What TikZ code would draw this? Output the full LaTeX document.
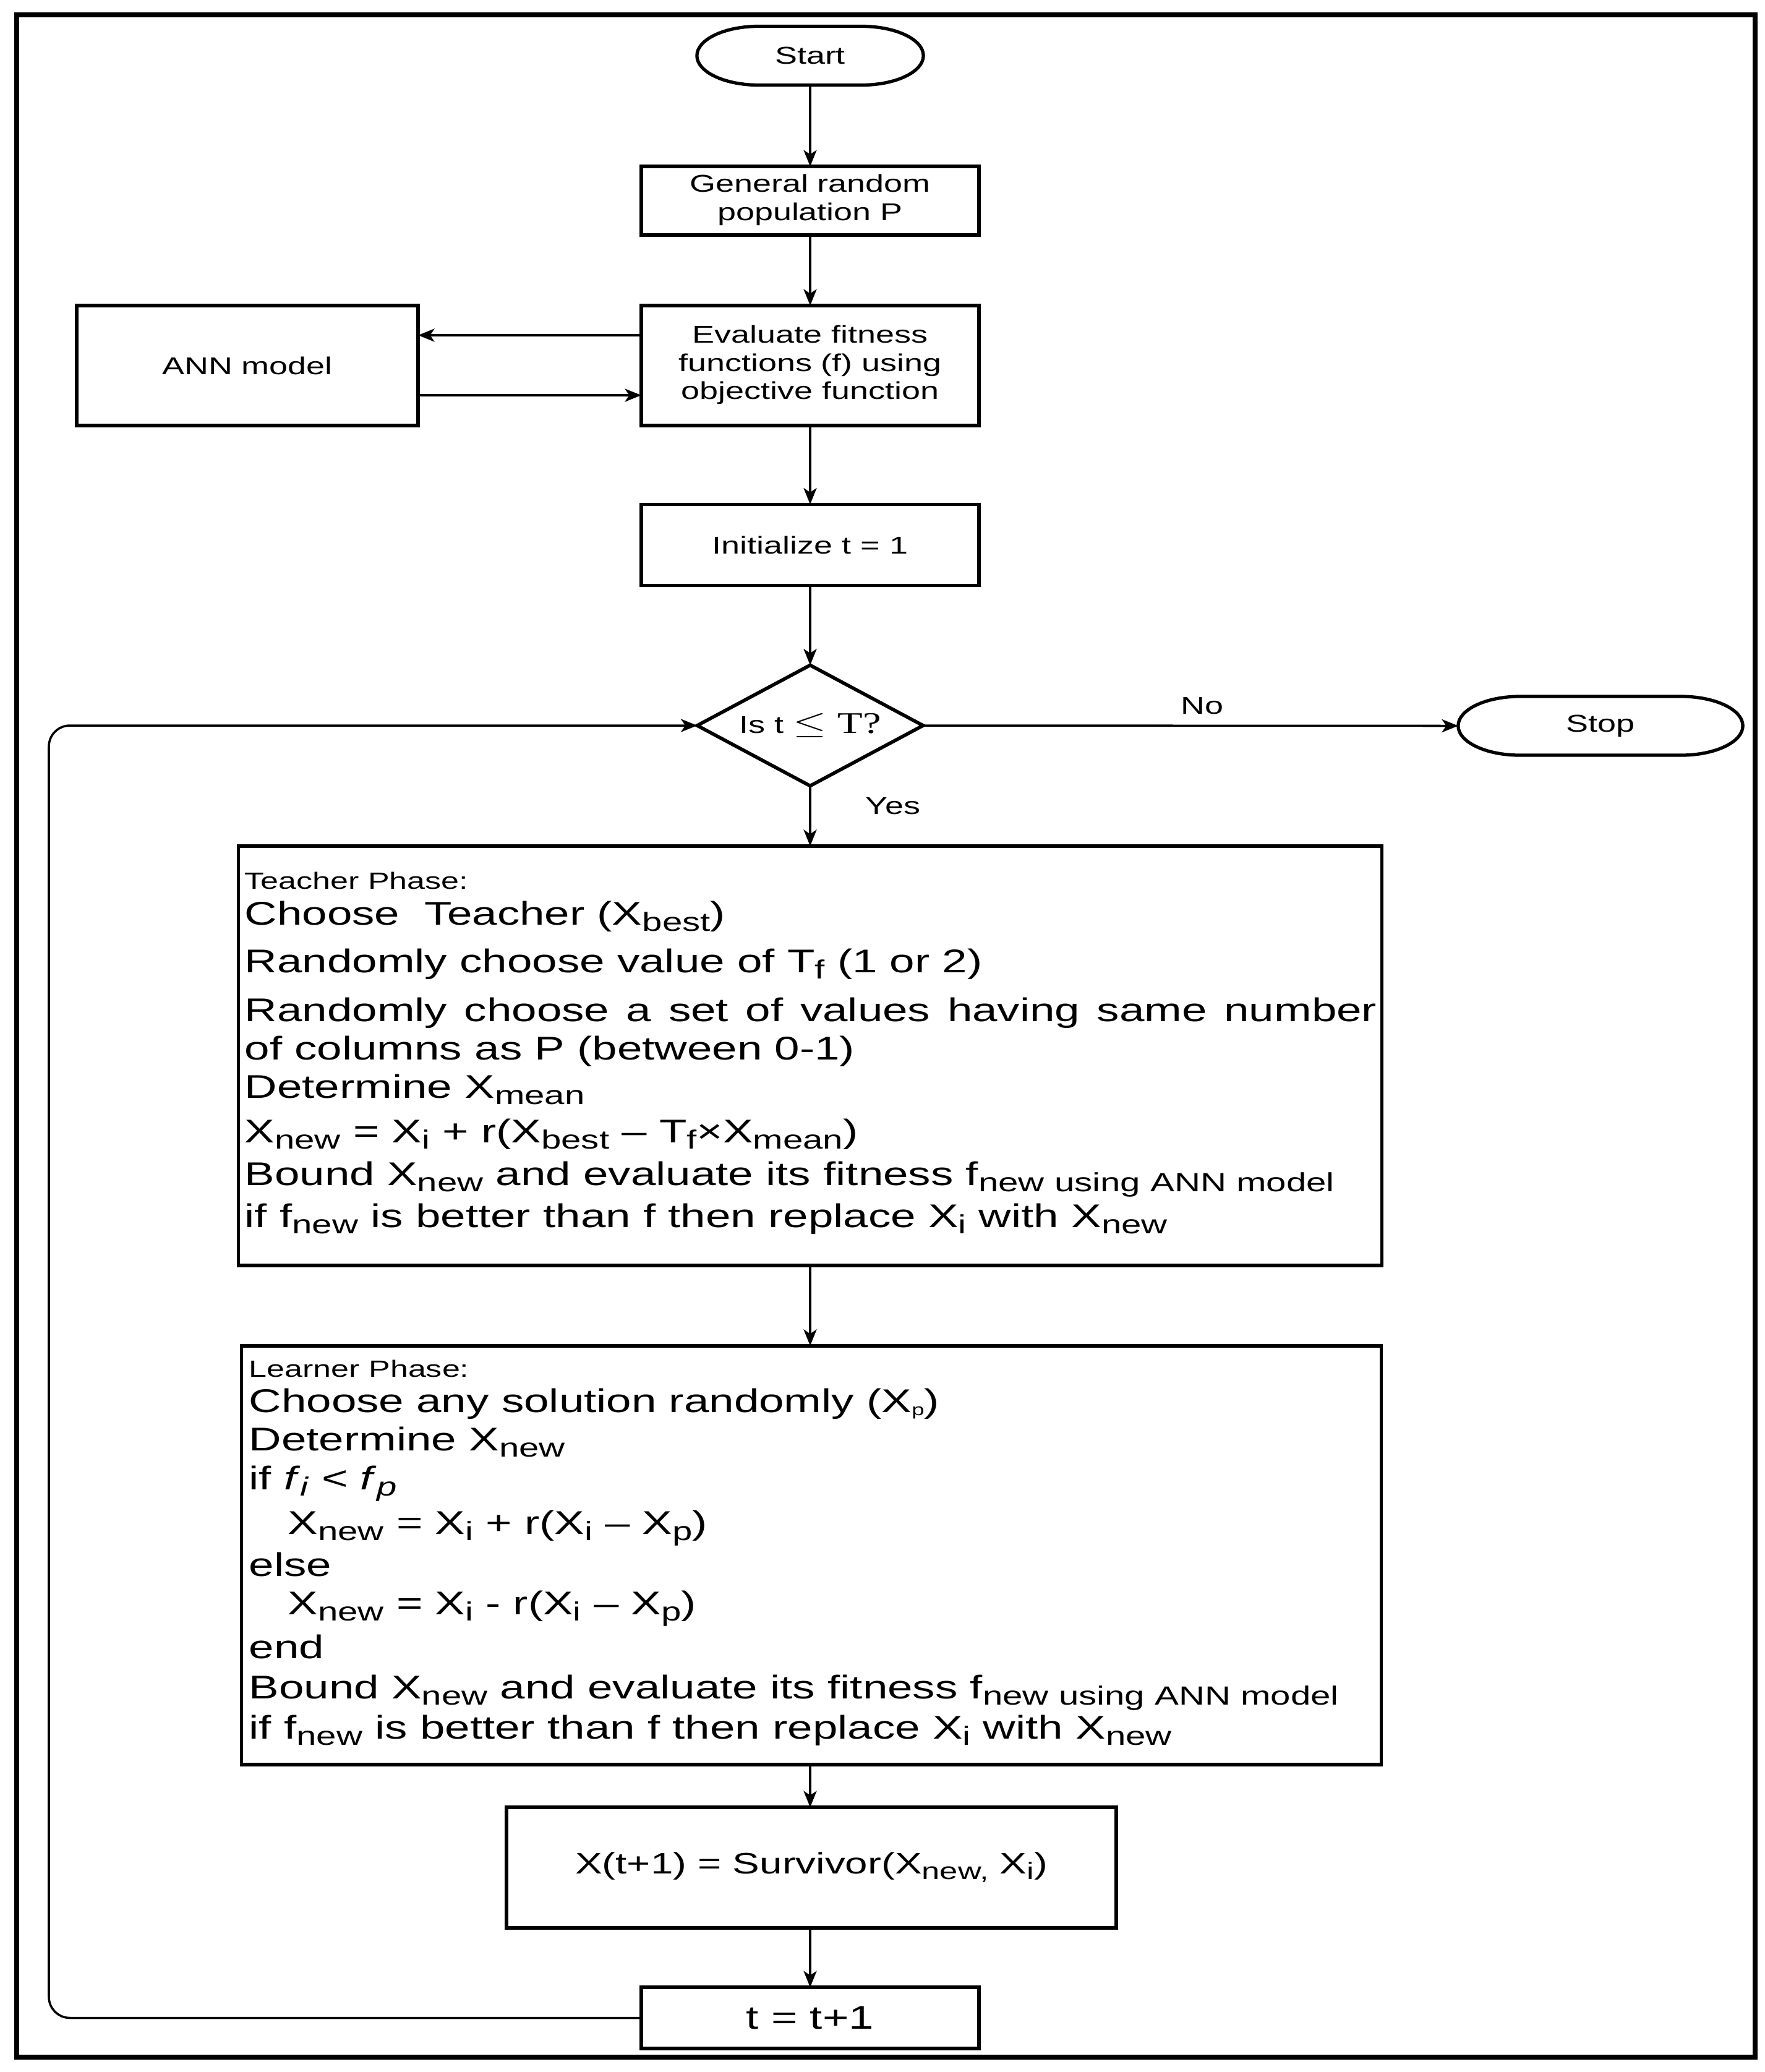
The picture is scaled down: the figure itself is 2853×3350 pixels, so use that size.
\documentclass[tikz,border=0pt]{standalone}
\usepackage{graphicx}
\usepackage{fontspec}
\setmainfont{Liberation Sans}
\newfontfamily\serifff{Liberation Serif}
\usetikzlibrary{shapes.geometric,arrows.meta}
\newcommand\fsmall{\fontsize{11.2}{13}\selectfont}
\newcommand\fbig{\fontsize{15.1}{18}\selectfont}
\newcommand\flab{\fontsize{10.8}{13}\selectfont}
\newcommand\fsurv{\fontsize{13.6}{16}\selectfont}
\newcommand\fser{\fontsize{13.8}{16}\selectfont}
\newcommand\sx[1]{\scalebox{1.37}[1]{#1}}
\newcommand\sbs[1]{\raisebox{-0.19em}{\scalebox{0.8}{#1}}}
\newcommand\tsb[1]{\raisebox{-0.1em}{\scalebox{0.5}{#1}}}
\newcommand\termoutline[2]{%
  \draw[line width=1.5pt] ([xshift=#2]#1.north west) -- ([xshift=-#2]#1.north east)
    arc[start angle=90,end angle=-90,x radius=#2,y radius=0.475cm]
    -- ([xshift=#2]#1.south west)
    arc[start angle=270,end angle=90,x radius=#2,y radius=0.475cm] -- cycle;}
\begin{document}
\begin{tikzpicture}[x=0.01cm,y=-0.01cm,
  box/.style={draw, line width=1.6pt, inner sep=0pt, outer sep=0pt, font=\fsmall, align=center},
  term/.style={inner sep=0pt, outer sep=0pt, minimum height=0.95cm, font=\fsmall},
  dia/.style={diamond, aspect=1.87, draw, line width=1.6pt, minimum width=3.65cm, minimum height=1.95cm, inner sep=0pt, outer sep=0pt, font=\fsmall},
  arr/.style={line width=1pt, -{Stealth[length=7.5pt,width=6pt,inset=2pt]}},
  tl/.style={anchor=base west, inner sep=0pt, font=\fbig},
  tlab/.style={anchor=base west, inner sep=0pt, font=\flab},
  lbl/.style={inner sep=0pt, font=\fsmall},
]
\useasboundingbox (0,0) rectangle (2853,3350);
\draw[line width=2.3pt] (27,24) rectangle (2838,3326);

% main flow nodes
\node[term, minimum width=3.66cm] (start) at (1310,90) {\sx{Start}};
\termoutline{start}{1cm}
\node[box, minimum width=5.46cm, minimum height=1.11cm] (gen) at (1310,324.5)
  {\sx{\begin{tabular}{@{}c@{}}General random\\population P\end{tabular}}};
\node[box, minimum width=5.46cm, minimum height=1.94cm] (eval) at (1310,591)
  {\sx{\begin{tabular}{@{}c@{}}Evaluate fitness\\functions (f) using\\objective function\end{tabular}}};
\node[box, minimum width=5.52cm, minimum height=1.94cm] (ann) at (400,591) {\sx{ANN model}};
\node[box, minimum width=5.46cm, minimum height=1.31cm] (init) at (1310,881) {\sx{Initialize t = 1}};
\node[dia] (dec) at (1310,1173) {\sx{Is t {\fser$\leq$ {\serifff T?}}}};
\node[term, minimum width=4.6cm] (stop) at (2588,1173.5) {\sx{Stop}};
\termoutline{stop}{1cm}

\node[box, minimum width=18.48cm, minimum height=6.78cm] (teach) at (1310,1707) {};
\node[box, minimum width=18.42cm, minimum height=6.77cm] (learn) at (1312,2514.5) {};
\node[box, minimum width=9.85cm, minimum height=1.95cm, font=\fsurv] (surv) at (1312,3019.5)
  {\sx{X(t+1) = Survivor(X\sbs{new,} X\sbs{i})}};
\node[box, minimum width=5.46cm, minimum height=0.99cm, font=\fbig] (tinc) at (1310,3262.5) {\sx{t = t+1}};

% teacher phase text
\node[tlab] (t0) at (395,1437) {\sx{Teacher Phase:}};
\node[tl] (t1) at (395,1495) {\sx{Choose\ \ Teacher (X\sbs{best})}};
\node[tl] (t2) at (395,1572) {\sx{Randomly choose value of T\sbs{f} (1 or 2)}};
\node[tl] (t3) at (395,1651) {\sx{\makebox[380pt][s]{Randomly choose a set of values having same number}}};
\node[tl] (t4) at (395,1713) {\sx{of columns as P (between 0-1)}};
\node[tl] (t5) at (395,1775) {\sx{Determine X\sbs{mean}}};
\node[tl] (t6) at (395,1847) {\sx{X\sbs{new} = X\sbs{i} + r(X\sbs{best} – T\sbs{f}×X\sbs{mean})}};
\node[tl] (t7) at (395,1916) {\sx{Bound X\sbs{new} and evaluate its fitness f\sbs{new using ANN model}}};
\node[tl] (t8) at (395,1984) {\sx{if f\sbs{new} is better than f then replace X\sbs{i} with X\sbs{new}}};

% learner phase text
\node[tlab] (l0) at (402,2226) {\sx{Learner Phase:}};
\node[tl] (l1) at (402,2283) {\sx{Choose any solution randomly (X\tsb{p})}};
\node[tl] (l2) at (402,2345) {\sx{Determine X\sbs{new}}};
\node[tl] (l3) at (402,2408) {\sx{if \textit{f}\sbs{\textit{i}} < \textit{f}\sbs{\textit{p}}}};
\node[tl] (l4) at (465,2480) {\sx{X\sbs{new} = X\sbs{i} + r(X\sbs{i} – X\sbs{p})}};
\node[tl] (l5) at (402,2548) {\sx{else}};
\node[tl] (l6) at (465,2610) {\sx{X\sbs{new} = X\sbs{i} - r(X\sbs{i} – X\sbs{p})}};
\node[tl] (l7) at (402,2681) {\sx{end}};
\node[tl] (l8) at (402,2746) {\sx{Bound X\sbs{new} and evaluate its fitness f\sbs{new using ANN model}}};
\node[tl] (l9) at (402,2811) {\sx{if f\sbs{new} is better than f then replace X\sbs{i} with X\sbs{new}}};

% labels
\node[lbl] (no) at (1944,1141) {\sx{No}};
\node[lbl] (yes) at (1444,1303) {\sx{Yes}};

% connectors
\draw[arr] (start.south) -- (gen.north);
\draw[arr] (gen.south) -- (eval.north);
\draw[arr] ([yshift=0.49cm]eval.west) -- ([yshift=0.49cm]ann.east);
\draw[arr] ([yshift=-0.48cm]ann.east) -- ([yshift=-0.48cm]eval.west);
\draw[arr] (eval.south) -- (init.north);
\draw[arr] (init.south) -- (dec.north);
\draw[arr] (dec.east) -- (stop.west);
\draw[arr] (dec.south) -- (dec.south |- teach.north);
\draw[arr] (teach.south -| dec.south) -- (dec.south |- learn.north);
\draw[arr] (learn.south -| dec.south) -- (dec.south |- surv.north);
\draw[arr] (surv.south -| dec.south) -- (tinc.north);
\coordinate (lc) at (79,1173);
\draw[arr, rounded corners=0.34cm] (tinc.west) -| (lc) -- (dec.west);
\end{tikzpicture}
\end{document}
